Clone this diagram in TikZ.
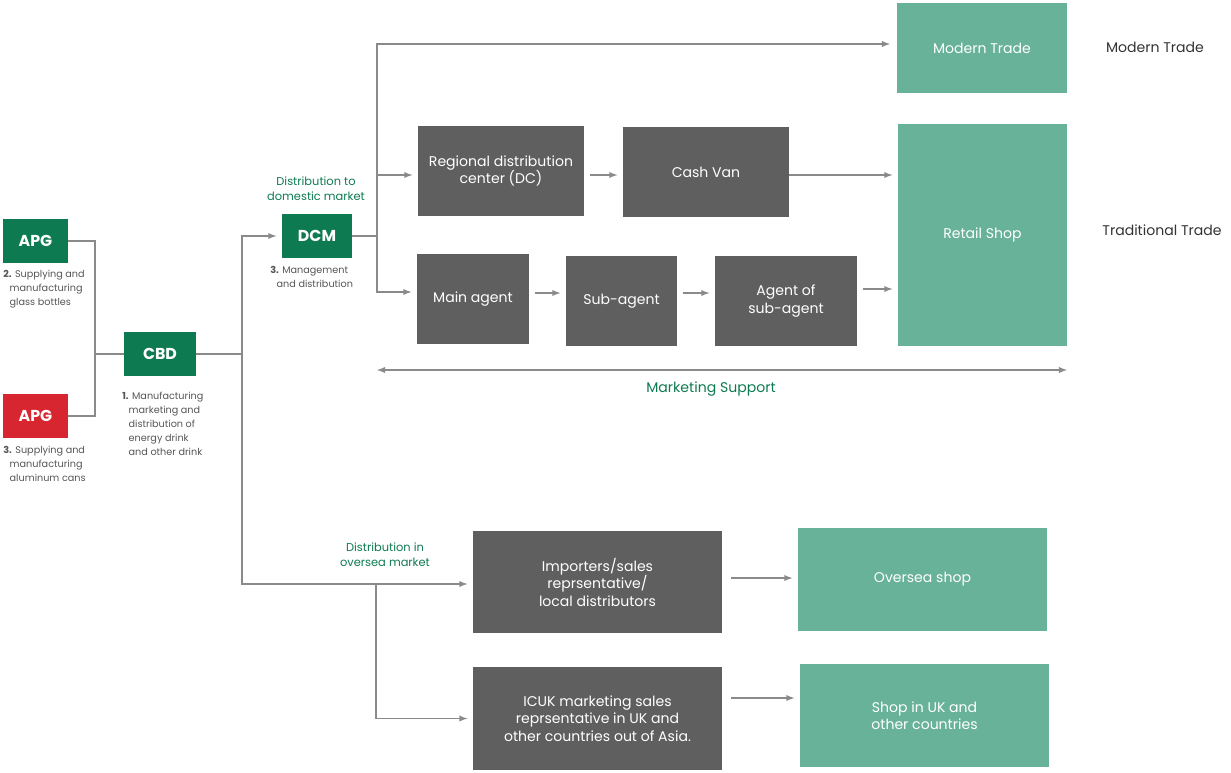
\documentclass[tikz,border=0pt]{standalone}
\usepackage{fontspec}
\setmainfont{Poppins}
\usetikzlibrary{positioning}
\usetikzlibrary{backgrounds}
\definecolor{dkgreen}{HTML}{0E7A52}
\definecolor{ltgreen}{HTML}{68B299}
\definecolor{apgred}{HTML}{D7262F}
\definecolor{boxgrey}{HTML}{5F5F5F}
\definecolor{linegrey}{HTML}{8A8A8A}
\definecolor{notegrey}{HTML}{555555}
\tikzset{
	box/.style = {draw=none,rectangle,text=white,align=center,font=\fontsize{8}{10}\selectfont,inner sep=1pt},
	gbox/.style = {box,fill=dkgreen,font=\fontsize{9}{10}\selectfont\bfseries},
	lbox/.style = {box,fill=ltgreen},
	dbox/.style = {box,fill=boxgrey},
	note/.style = {text=notegrey,align=left,anchor=north west,font=\fontsize{5.5}{8}\selectfont,inner sep=0pt},
	gnote/.style = {text=dkgreen,align=center,font=\fontsize{6.5}{8.5}\selectfont,inner sep=0pt},
	link/.style = {linegrey,line width=0.6pt},
	arr/.style = {link,-latex}
}
\begin{document}
\begin{tikzpicture}[x=0.02cm,y=-0.02cm]
		\useasboundingbox (0,0) rectangle (1231,772);
		% left side
		\node[gbox,minimum width = 1.3cm,minimum height = 0.88cm] at (35.5,241) (apg1) {APG};
		\node[gbox,fill = apgred,minimum width = 1.3cm,minimum height = 0.88cm] at (35.5,416) (apg2) {APG};
		\node[gbox,minimum width = 1.44cm,minimum height = 0.88cm] at (160,354) (cbd) {CBD};
		\node[gbox,minimum width = 1.4cm,minimum height = 0.88cm] at (317,236) (dcm) {DCM};
		\node[note] at (3,270) (n1) {\textbf{2.} Supplying and\\\hspace{1.2ex}manufacturing\\\hspace{1.2ex}glass bottles};
		\node[note] at (3,446) (n2) {\textbf{3.} Supplying and\\\hspace{1.2ex}manufacturing\\\hspace{1.2ex}aluminum cans};
		\node[note] at (122,392) (n3) {\textbf{1.} Manufacturing\\\hspace{1.2ex}marketing and\\\hspace{1.2ex}distribution of\\\hspace{1.2ex}energy drink\\\hspace{1.2ex}and other drink};
		\node[note] at (270,266) (n4) {\textbf{3.} Management\\\hspace{1.2ex}and distribution};
		\node[gnote] at (316,189) (dom) {Distribution to\\domestic market};
		\node[gnote] at (385,555) (ovs) {Distribution in\\oversea market};
		% domestic
		\node[lbox,minimum width = 3.4cm,minimum height = 1.8cm] at (982,48) (mt) {Modern Trade};
		\node[lbox,minimum width = 3.38cm,minimum height = 4.44cm] at (982.5,235) (rs) {Retail Shop};
		\node[dbox,minimum width = 3.32cm,minimum height = 1.8cm] at (501,171) (dc) {Regional distribution\\center (DC)};
		\node[dbox,minimum width = 3.32cm,minimum height = 1.8cm] at (706,172) (van) {Cash Van};
		\node[dbox,minimum width = 2.24cm,minimum height = 1.8cm] at (473,299) (main) {Main agent};
		\node[dbox,minimum width = 2.22cm,minimum height = 1.8cm] at (621.5,301) (sub) {Sub-agent};
		\node[dbox,minimum width = 2.84cm,minimum height = 1.8cm] at (786,301) (aos) {Agent of\\sub-agent};
		\node[font=\fontsize{8}{10}\selectfont,text=black!80] at (1155,47) (mtl) {Modern Trade};
		\node[font=\fontsize{8}{10}\selectfont,text=black!80] at (1162,230) (ttl) {Traditional Trade};
		\node[gnote,font=\fontsize{8}{10}\selectfont] at (711,389) (ms) {Marketing Support};
		% oversea
		\node[dbox,minimum width = 4.98cm,minimum height = 2.04cm] at (597.5,582) (imp) {Importers/sales\\reprsentative/\\local distributors};
		\node[lbox,minimum width = 4.98cm,minimum height = 2.06cm] at (922.5,579.5) (os) {Oversea shop};
		\node[dbox,minimum width = 4.98cm,minimum height = 2.06cm] at (597.5,718.5) (icuk) {ICUK marketing sales\\reprsentative in UK and\\other countries out of Asia.};
		\node[lbox,minimum width = 4.98cm,minimum height = 2.06cm] at (924.5,715.5) (uk) {Shop in UK and\\other countries};

		\coordinate (j1) at (95,354);
		\coordinate (j2) at (242,354);
		\coordinate (j3) at (377,236);
		\coordinate (j4) at (376,584);
		\begin{scope}[on background layer]
			\draw[link] (apg1.east) -| (j1);
			\draw[link] (apg2.east) -| (j1);
			\draw[link] (j1) -- (cbd.west);
			\draw[link] (cbd.east) -- (j2);
			\draw[arr] (j2) |- ([xshift=-3]dcm.west);
			\draw[arr] (j2) |- ([xshift=-3]imp.west |- j4);
			\draw[arr] (j4) |- ([xshift=-3]icuk.west);
			\draw[link] (dcm.east) -- (j3);
			\draw[arr] (j3) |- (890,44);
			\draw[arr] (j3) |- ([xshift=-3]dc.west |- 0,175);
			\draw[arr] (j3) |- ([xshift=-3]main.west |- 0,292);
			\draw[arr] ([xshift=3]dc.east |- 0,175) -- ([xshift=-3]van.west |- 0,175);
			\draw[arr] (van.east |- 0,175) -- ([xshift=-3]rs.west |- 0,175);
			\draw[arr] ([xshift=3]main.east |- 0,293) -- ([xshift=-3]sub.west |- 0,293);
			\draw[arr] ([xshift=3]sub.east |- 0,293) -- ([xshift=-3]aos.west |- 0,293);
			\draw[arr] ([xshift=3]aos.east |- 0,289) -- ([xshift=-3]rs.west |- 0,289);
			\draw[arr] ([xshift=5]imp.east |- 0,578) -- ([xshift=-3]os.west |- 0,578);
			\draw[arr] ([xshift=5]icuk.east |- 0,698) -- ([xshift=-3]uk.west |- 0,698);
			\draw[link,latex-latex] (377,370) -- (1067,370);
		\end{scope}
	\end{tikzpicture}
\end{document}
